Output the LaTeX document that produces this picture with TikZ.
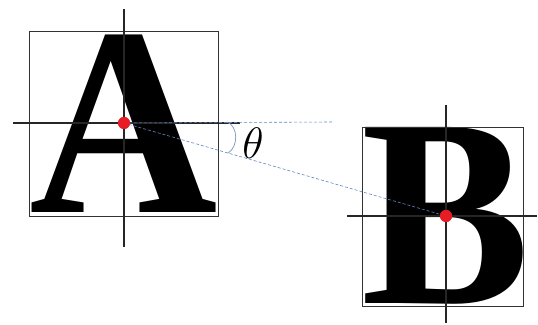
\documentclass[tikz,border=0pt]{standalone}
\usepackage{fix-cm}
\usepackage{fontspec}
\newfontfamily\glyphfont{Liberation Serif}
\usetikzlibrary{positioning,calc}
\definecolor{dotred}{RGB}{232,28,36}
\definecolor{guideblue}{RGB}{95,135,190}
\definecolor{arcgray}{RGB}{140,160,190}

\begin{document}
\begin{tikzpicture}[x=1pt,y=1pt,
glyph/.style={inner sep=0,anchor=base,font=\glyphfont\bfseries},
frame/.style={draw=black!80,line width=0.9pt},
cross/.style={draw=black!85,line width=1.1pt},
refdot/.style={circle,fill=dotred,inner sep=0,minimum size=12pt},
guide/.style={draw=guideblue,dashed,line width=0.6pt,dash pattern=on 3pt off 2pt},
anglearc/.style={draw=arcgray,line width=0.8pt}]
\useasboundingbox (0,0) rectangle (538,324);
% letter A
\node[glyph,font=\glyphfont\bfseries\fontsize{269}{269}\selectfont] (letterA) at (124,111) {\scalebox{0.97}[1]{A}};
\draw[frame] (29,108) rectangle (218,293);
\draw[cross] (124,77) -- (124,315);
\draw[cross] (13,201) -- (240,201);
% letter B
\node[glyph,font=\glyphfont\bfseries\fontsize{269}{269}\selectfont] (letterB) at (446,21) {\scalebox{0.94}[1]{B}};
\draw[frame] (362,18) rectangle (523,197);
\draw[cross] (446,1) -- (446,219);
\draw[cross] (347,108) -- (537,108);
% reference points
\node[refdot] (dotA) at (124,201) {};
\node[refdot] (dotB) at (446,108) {};
\coordinate (hend) at (333,202);
\draw[guide] (dotA.center) -- (hend);
\draw[guide] (dotA.center) -- (dotB.center);
\node[refdot] at (dotA) {};
\node[refdot] at (dotB) {};
% angle
\coordinate (arctop) at (227,202);
\coordinate (arcbot) at (228,171);
\draw[anglearc] (arctop) to[out=-20,in=30] (arcbot);
\node[inner sep=0,font=\fontsize{44}{44}\selectfont] (theta) at (253,181) {$\theta$};
\end{tikzpicture}
\end{document}
